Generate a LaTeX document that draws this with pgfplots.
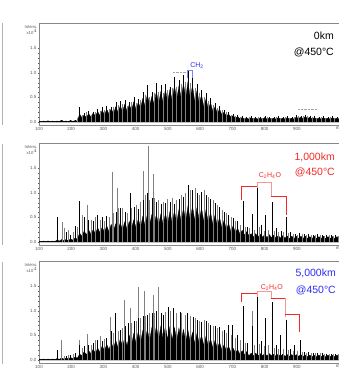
\documentclass[border=0pt]{standalone}
\usepackage{pgfplots}
\pgfplotsset{compat=1.18}
\usepackage{fontspec}
\setmainfont{Liberation Sans}
\definecolor{myblue}{RGB}{45,45,245}
\definecolor{myred}{RGB}{245,40,40}
\definecolor{mypink}{RGB}{250,150,150}
\definecolor{axgray}{RGB}{135,135,135}
\definecolor{tkgray}{RGB}{90,90,90}
\pgfplotsset{spec/.style={
  scale only axis, width=301.5pt, height=101.4pt,
  xmin=100, xmax=1035, ymin=-0.06, ymax=2.0,
  anchor=south west, clip mode=individual,
  axis line style={axgray, line width=0.5pt},
  xtick={100,200,...,900}, ytick={0,0.5,1,1.5},
  minor x tick num=4, minor y tick num=4,
  tick align=outside, major tick length=1.5pt, minor tick length=0.8pt,
  tick style={tkgray, line width=0.3pt}, tick pos=left,
  ticklabel style={font=\fontsize{4.5}{5}\selectfont, text=tkgray},
  xticklabel style={inner sep=0.6pt},
  yticklabel style={inner sep=1pt, /pgf/number format/.cd, fixed, fixed zerofill, precision=1},
  /pgf/number format/assume math mode=true,
  base/.style={fill=black, draw=black, line width=0.3pt},
  bspk/.style={ycomb, black, line width=0.45pt, mark=none},
  gspk/.style={ycomb, black!50, line width=0.45pt, mark=none},
}}
\begin{document}
\begin{tikzpicture}
\useasboundingbox (0pt,0pt) rectangle (338pt,377pt);
% ---------- panel 1: 0 km
\begin{axis}[spec, at={(39pt,252pt)}]
\addplot[base] coordinates {(100,0.02)(107,0.012)(114,0.02)(121,0.012)(128,0.025)(135,0.012)(142,0.02)(149,0.012)(156,0.02)(163,0.012)(170,0.035)(177,0.015)(184,0.02)(191,0.012)(198,0.03)(205,0.015)(212,0.03)(219,0.02)(226,0.16)(233,0.09)(240,0.14)(247,0.09)(254,0.17)(261,0.1)(268,0.18)(275,0.12)(282,0.21)(289,0.13)(296,0.24)(303,0.14)(310,0.26)(317,0.16)(324,0.27)(331,0.17)(338,0.31)(345,0.2)(352,0.33)(359,0.21)(366,0.36)(373,0.22)(380,0.35)(387,0.24)(394,0.41)(401,0.25)(408,0.4)(415,0.28)(422,0.48)(429,0.32)(436,0.56)(443,0.33)(450,0.52)(457,0.36)(464,0.62)(471,0.37)(478,0.62)(485,0.38)(492,0.66)(499,0.41)(506,0.66)(513,0.43)(520,0.74)(527,0.46)(534,0.73)(541,0.48)(548,0.78)(555,0.49)(562,0.82)(569,0.48)(576,0.74)(583,0.42)(590,0.64)(597,0.37)(604,0.55)(611,0.31)(618,0.47)(625,0.26)(632,0.39)(639,0.22)(646,0.31)(653,0.18)(660,0.26)(667,0.15)(674,0.2)(681,0.12)(688,0.16)(695,0.1)(702,0.13)(709,0.08)(716,0.11)(723,0.07)(730,0.09)(737,0.06)(744,0.08)(751,0.06)(758,0.09)(765,0.06)(772,0.08)(779,0.06)(786,0.08)(793,0.06)(800,0.09)(807,0.06)(814,0.08)(821,0.06)(828,0.08)(835,0.06)(842,0.09)(849,0.06)(856,0.08)(863,0.06)(870,0.09)(877,0.06)(884,0.08)(891,0.06)(898,0.1)(905,0.07)(912,0.1)(919,0.07)(926,0.11)(933,0.07)(940,0.1)(947,0.06)(954,0.09)(961,0.06)(968,0.08)(975,0.06)(982,0.09)(989,0.06)(996,0.08)(1003,0.06)(1010,0.09)(1017,0.06)(1024,0.08)(1031,0.06)} \closedcycle;
\addplot[gspk] coordinates {(219,0.08)(233,0.14)(247,0.2)(261,0.15)(275,0.2)(289,0.22)(303,0.24)(317,0.26)(331,0.3)(345,0.34)(359,0.36)(373,0.33)(387,0.4)(401,0.38)(415,0.45)(429,0.55)(443,0.5)(457,0.6)(471,0.62)(485,0.6)(499,0.65)(513,0.7)(527,0.72)(541,0.78)(555,0.82)(569,0.8)(583,0.7)(597,0.6)(611,0.5)(625,0.42)(639,0.35)(653,0.28)(667,0.24)(681,0.2)(695,0.15)(709,0.13)(723,0.1)(737,0.09)(751,0.1)(765,0.09)(779,0.1)(793,0.09)(807,0.1)(821,0.09)(835,0.1)(849,0.09)(863,0.1)(877,0.09)(891,0.1)(905,0.13)(919,0.12)(933,0.13)(947,0.1)(961,0.09)(975,0.1)(989,0.09)(1003,0.1)(1017,0.09)};
\addplot[bspk] coordinates {(100,0.03)(114,0.03)(128,0.03)(142,0.025)(156,0.03)(170,0.05)(184,0.03)(198,0.035)(212,0.04)(226,0.30)(240,0.18)(254,0.22)(268,0.21)(282,0.27)(296,0.30)(310,0.33)(324,0.31)(338,0.40)(352,0.42)(366,0.44)(380,0.40)(394,0.50)(408,0.46)(422,0.62)(436,0.76)(450,0.62)(464,0.80)(478,0.75)(492,0.78)(506,0.72)(520,0.92)(534,0.86)(548,0.96)(562,1.06)(576,0.92)(590,0.78)(604,0.66)(618,0.58)(632,0.48)(646,0.38)(660,0.32)(674,0.25)(688,0.20)(702,0.16)(716,0.14)(730,0.12)(744,0.11)(758,0.12)(772,0.10)(786,0.11)(800,0.12)(814,0.10)(828,0.11)(842,0.12)(856,0.11)(870,0.12)(884,0.11)(898,0.14)(912,0.13)(926,0.14)(940,0.13)(954,0.12)(968,0.11)(982,0.12)(996,0.11)(1010,0.12)(1024,0.11)};
\draw[black!35, densely dotted, line width=0.4pt] (axis cs:515,1.01) -- (axis cs:559,1.01);
\draw[black!35, densely dotted, line width=0.4pt] (axis cs:903,0.26) -- (axis cs:962,0.26);
\draw[myblue!60, line width=0.5pt] (axis cs:559,0.89) -- (axis cs:559,1.06) -- (axis cs:574,1.06) -- (axis cs:574,0.89);
\node[myblue, font=\fontsize{7}{8}\selectfont, inner sep=0pt] at (axis cs:590,1.15) {CH\textsubscript{2}};
\node[anchor=north east, align=right, inner sep=0pt, font=\fontsize{4.2}{5}\selectfont, text=tkgray] at ([xshift=-1.5pt,yshift=-1.5pt]rel axis cs:0,1) {Intens.\\x10$^4$};
\node[anchor=north west, inner sep=0.6pt, font=\fontsize{4.5}{5}\selectfont, text=tkgray] at (axis cs:1018,-0.06) {m/z};
\end{axis}
% ---------- panel 2: 1,000 km
\begin{axis}[spec, at={(39pt,132pt)}]
\addplot[base] coordinates {(100,0.02)(107,0.012)(114,0.02)(121,0.012)(128,0.02)(135,0.012)(142,0.02)(149,0.012)(156,0.04)(163,0.02)(170,0.05)(177,0.03)(184,0.05)(191,0.03)(198,0.06)(205,0.04)(212,0.08)(219,0.06)(226,0.18)(233,0.12)(240,0.22)(247,0.15)(254,0.25)(261,0.16)(268,0.25)(275,0.17)(282,0.29)(289,0.19)(296,0.3)(303,0.2)(310,0.33)(317,0.21)(324,0.36)(331,0.23)(338,0.37)(345,0.24)(352,0.39)(359,0.25)(366,0.41)(373,0.26)(380,0.42)(387,0.28)(394,0.45)(401,0.29)(408,0.47)(415,0.3)(422,0.52)(429,0.33)(436,0.56)(443,0.35)(450,0.56)(457,0.35)(464,0.56)(471,0.35)(478,0.57)(485,0.35)(492,0.58)(499,0.37)(506,0.62)(513,0.38)(520,0.63)(527,0.39)(534,0.66)(541,0.41)(548,0.69)(555,0.43)(562,0.73)(569,0.44)(576,0.73)(583,0.44)(590,0.7)(597,0.43)(604,0.69)(611,0.42)(618,0.65)(625,0.39)(632,0.6)(639,0.36)(646,0.55)(653,0.33)(660,0.5)(667,0.29)(674,0.44)(681,0.25)(688,0.38)(695,0.21)(702,0.33)(709,0.19)(716,0.28)(723,0.16)(730,0.24)(737,0.14)(744,0.21)(751,0.13)(758,0.17)(765,0.1)(772,0.17)(779,0.1)(786,0.16)(793,0.1)(800,0.15)(807,0.09)(814,0.15)(821,0.09)(828,0.14)(835,0.08)(842,0.13)(849,0.08)(856,0.13)(863,0.08)(870,0.12)(877,0.07)(884,0.12)(891,0.07)(898,0.12)(905,0.07)(912,0.12)(919,0.07)(926,0.12)(933,0.07)(940,0.11)(947,0.07)(954,0.12)(961,0.07)(968,0.11)(975,0.07)(982,0.12)(989,0.07)(996,0.11)(1003,0.07)(1010,0.11)(1017,0.07)(1024,0.11)(1031,0.07)} \closedcycle;
\addplot[gspk] coordinates {(171,0.40)(177,0.28)(191,0.25)(205,0.2)(219,0.3)(233,0.55)(249,0.75)(261,0.45)(275,0.5)(289,0.45)(303,0.42)(317,0.5)(327,1.43)(331,0.6)(343,1.09)(345,0.7)(359,0.7)(373,0.6)(387,0.7)(401,0.75)(415,0.82)(423,1.45)(429,0.95)(438,1.95)(443,0.85)(454,1.38)(457,0.9)(471,0.85)(485,0.82)(499,0.88)(513,0.9)(527,0.86)(541,0.95)(555,1.0)(569,1.05)(583,1.1)(597,0.95)(611,1.05)(625,0.92)(639,0.85)(653,0.75)(667,0.65)(681,0.6)(695,0.5)(709,0.42)(723,0.35)(739,0.3)(753,0.28)(767,0.25)(783,0.3)(797,0.22)(811,0.25)(828,0.22)(842,0.2)(857,0.2)(873,0.18)(887,0.16)(901,0.15)(915,0.16)(929,0.14)(943,0.15)(957,0.14)(971,0.14)(985,0.13)(999,0.14)(1013,0.13)(1027,0.13)};
\addplot[bspk] coordinates {(100,0.03)(114,0.03)(128,0.03)(142,0.03)(156,0.50)(184,0.2)(198,0.15)(212,0.32)(226,0.83)(240,0.5)(254,0.45)(268,0.42)(282,0.55)(296,0.5)(310,0.52)(338,0.62)(352,0.7)(366,0.62)(383,0.99)(394,0.72)(408,0.68)(422,0.85)(436,1.0)(450,0.9)(464,0.82)(478,0.78)(492,0.8)(506,0.82)(520,0.78)(534,0.88)(548,0.92)(562,1.15)(576,1.05)(590,1.0)(604,1.02)(618,0.95)(632,0.88)(646,0.8)(660,0.72)(674,0.62)(688,0.55)(702,0.48)(716,0.42)(733,0.83)(746,0.3)(760,0.57)(776,1.09)(790,0.35)(803,0.55)(822,0.81)(835,0.28)(850,0.22)(866,0.51)(880,0.2)(894,0.17)(908,0.18)(922,0.16)(936,0.17)(950,0.15)(964,0.16)(978,0.15)(992,0.14)(1006,0.15)(1020,0.14)};
\draw[myred, line width=0.7pt] (axis cs:729,0.85) -- (axis cs:729,1.14) -- (axis cs:776,1.14);
\draw[mypink, line width=0.7pt] (axis cs:776,1.10) -- (axis cs:776,1.22) -- (axis cs:820,1.22) -- (axis cs:820,0.93);
\draw[myred, line width=0.7pt] (axis cs:820,0.93) -- (axis cs:866,0.93) -- (axis cs:866,0.55);
\node[myred, font=\fontsize{7}{8}\selectfont, inner sep=0pt] at (axis cs:816,1.36) {C\textsubscript{2}H\textsubscript{4}O};
\node[anchor=north east, align=right, inner sep=0pt, font=\fontsize{4.2}{5}\selectfont, text=tkgray] at ([xshift=-1.5pt,yshift=-1.5pt]rel axis cs:0,1) {Intens.\\x10$^4$};
\node[anchor=north west, inner sep=0.6pt, font=\fontsize{4.5}{5}\selectfont, text=tkgray] at (axis cs:1018,-0.06) {m/z};
\end{axis}
% ---------- panel 3: 5,000 km
\begin{axis}[spec, at={(39pt,14pt)}]
\addplot[base] coordinates {(100,0.02)(107,0.012)(114,0.02)(121,0.012)(128,0.02)(135,0.012)(142,0.02)(149,0.012)(156,0.03)(163,0.015)(170,0.04)(177,0.02)(184,0.04)(191,0.025)(198,0.05)(205,0.03)(212,0.06)(219,0.04)(226,0.12)(233,0.09)(240,0.17)(247,0.11)(254,0.19)(261,0.13)(268,0.22)(275,0.14)(282,0.24)(289,0.16)(296,0.29)(303,0.19)(310,0.32)(317,0.21)(324,0.36)(331,0.23)(338,0.4)(345,0.25)(352,0.43)(359,0.28)(366,0.46)(373,0.29)(380,0.5)(387,0.31)(394,0.54)(401,0.34)(408,0.58)(415,0.36)(422,0.6)(429,0.38)(436,0.62)(443,0.39)(450,0.66)(457,0.41)(464,0.69)(471,0.42)(478,0.69)(485,0.42)(492,0.69)(499,0.42)(506,0.68)(513,0.41)(520,0.66)(527,0.4)(534,0.65)(541,0.39)(548,0.62)(555,0.38)(562,0.6)(569,0.36)(576,0.56)(583,0.34)(590,0.54)(597,0.33)(604,0.5)(611,0.3)(618,0.48)(625,0.28)(632,0.43)(639,0.25)(646,0.4)(653,0.24)(660,0.36)(667,0.21)(674,0.31)(681,0.19)(688,0.28)(695,0.16)(702,0.24)(709,0.15)(716,0.21)(723,0.12)(730,0.19)(737,0.11)(744,0.17)(751,0.085)(758,0.14)(765,0.085)(772,0.14)(779,0.085)(786,0.13)(793,0.085)(800,0.13)(807,0.085)(814,0.13)(821,0.085)(828,0.12)(835,0.075)(842,0.12)(849,0.075)(856,0.12)(863,0.075)(870,0.11)(877,0.075)(884,0.11)(891,0.075)(898,0.11)(905,0.075)(912,0.11)(919,0.075)(926,0.1)(933,0.065)(940,0.1)(947,0.065)(954,0.1)(961,0.065)(968,0.1)(975,0.065)(982,0.1)(989,0.065)(996,0.1)(1003,0.065)(1010,0.1)(1017,0.065)(1024,0.1)(1031,0.065)} \closedcycle;
\addplot[gspk] coordinates {(168,0.40)(177,0.08)(191,0.1)(205,0.12)(224,0.4)(233,0.25)(249,0.53)(261,0.3)(275,0.4)(289,0.48)(303,0.42)(320,0.88)(331,0.55)(345,0.6)(359,0.65)(363,1.22)(382,1.05)(387,0.75)(401,0.8)(407,1.49)(415,0.85)(425,1.4)(429,0.9)(443,0.95)(454,1.32)(457,0.95)(469,1.49)(471,1.0)(492,0.98)(507,1.0)(527,0.95)(541,0.95)(555,0.92)(569,0.9)(583,0.85)(597,0.8)(611,0.82)(625,0.75)(639,0.7)(653,0.65)(667,0.6)(681,0.55)(695,0.5)(709,0.45)(723,0.4)(739,0.35)(760,1.0)(767,0.3)(783,0.32)(797,0.28)(811,0.3)(828,0.25)(842,0.22)(857,0.22)(873,0.2)(887,0.18)(901,0.18)(915,0.16)(929,0.15)(943,0.15)(957,0.14)(971,0.14)(985,0.13)(999,0.13)(1013,0.12)(1027,0.12)};
\addplot[bspk] coordinates {(100,0.03)(114,0.03)(128,0.03)(142,0.03)(156,0.2)(184,0.08)(198,0.1)(212,0.15)(226,0.3)(240,0.28)(254,0.3)(268,0.35)(282,0.4)(296,0.38)(310,0.45)(324,0.6)(335,0.96)(352,0.62)(366,0.7)(377,0.75)(394,0.8)(408,0.85)(422,0.9)(436,0.92)(450,0.95)(464,1.0)(478,0.95)(485,0.92)(500,1.08)(515,1.05)(537,0.98)(559,0.96)(577,0.88)(590,0.82)(604,0.78)(618,0.8)(632,0.72)(646,0.7)(660,0.68)(674,0.62)(686,0.71)(698,0.71)(716,0.5)(732,1.1)(746,0.35)(760,0.7)(776,1.28)(790,0.38)(803,0.86)(822,1.18)(835,0.3)(847,0.51)(866,0.82)(880,0.22)(891,0.31)(909,0.41)(922,0.17)(936,0.16)(950,0.15)(964,0.14)(978,0.14)(992,0.13)(1006,0.13)(1020,0.12)};
\draw[myred, line width=0.7pt] (axis cs:729,1.18) -- (axis cs:729,1.36) -- (axis cs:776,1.36);
\draw[mypink, line width=0.7pt] (axis cs:776,1.28) -- (axis cs:776,1.40) -- (axis cs:820,1.40) -- (axis cs:820,1.26);
\draw[myred, line width=0.7pt] (axis cs:820,1.26) -- (axis cs:864,1.26);
\draw[mypink, line width=0.7pt] (axis cs:864,1.26) -- (axis cs:864,0.87);
\draw[myred, line width=0.7pt] (axis cs:864,0.93) -- (axis cs:907,0.93) -- (axis cs:907,0.57);
\node[myred, font=\fontsize{7}{8}\selectfont, inner sep=0pt] at (axis cs:822,1.48) {C\textsubscript{2}H\textsubscript{4}O};
\node[anchor=north east, align=right, inner sep=0pt, font=\fontsize{4.2}{5}\selectfont, text=tkgray] at ([xshift=-1.5pt,yshift=-1.5pt]rel axis cs:0,1) {Intens.\\x10$^4$};
\node[anchor=north west, inner sep=0.6pt, font=\fontsize{4.5}{5}\selectfont, text=tkgray] at (axis cs:1018,-0.06) {m/z};
\end{axis}
% ---------- labels and left edge lines
\node[anchor=east, inner sep=0pt, font=\fontsize{10.5}{12}\selectfont] at (334pt,341pt) {0km};
\node[anchor=east, inner sep=0pt, font=\fontsize{10.5}{12}\selectfont] at (334pt,325pt) {@450°C};
\node[anchor=east, inner sep=0pt, font=\fontsize{10.5}{12}\selectfont, text=myred] at (335pt,220pt) {1,000km};
\node[anchor=east, inner sep=0pt, font=\fontsize{10.5}{12}\selectfont, text=myred] at (335pt,205pt) {@450°C};
\node[anchor=east, inner sep=0pt, font=\fontsize{10.5}{12}\selectfont, text=myblue] at (336pt,104pt) {5,000km};
\node[anchor=east, inner sep=0pt, font=\fontsize{10.5}{12}\selectfont, text=myblue] at (336pt,87pt) {@450°C};
\draw[black!30, line width=0.6pt] (2.5pt,354pt) -- (2.5pt,252pt);
\draw[black!30, line width=0.6pt] (2.5pt,233pt) -- (2.5pt,132pt);
\draw[black!30, line width=0.6pt] (2.5pt,115pt) -- (2.5pt,13pt);
\end{tikzpicture}
\end{document}
